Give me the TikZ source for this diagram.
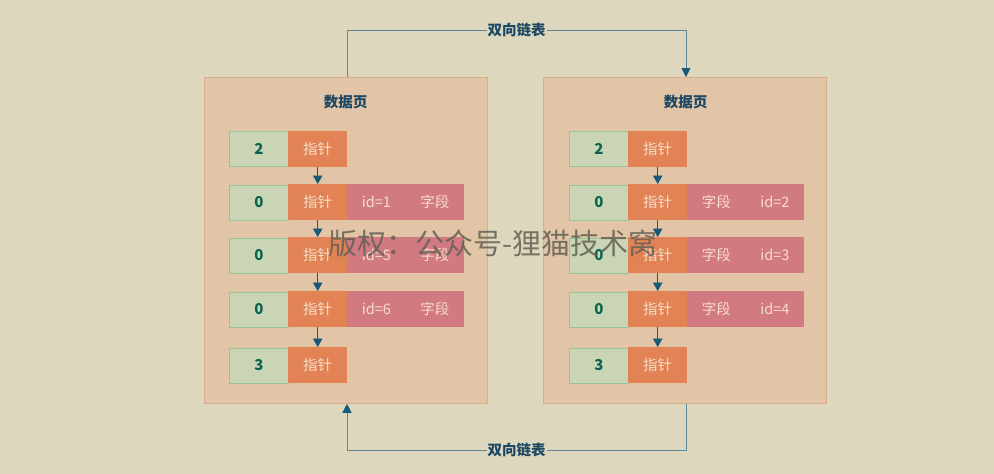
\documentclass[tikz,border=0pt]{standalone}
\usepackage{fontspec}
\setmainfont{Noto Sans CJK SC}
\usetikzlibrary{arrows.meta}
\definecolor{bg}{RGB}{221,215,189}
\definecolor{pagefill}{RGB}{225,197,166}
\definecolor{pageline}{RGB}{220,172,140}
\definecolor{grn}{RGB}{202,213,182}
\definecolor{grnb}{RGB}{150,196,150}
\definecolor{grnt}{RGB}{10,100,80}
\definecolor{org}{RGB}{226,131,86}
\definecolor{pnk}{RGB}{210,122,130}
\definecolor{celltxt}{RGB}{246,222,200}
\definecolor{lnk}{RGB}{95,135,150}
\definecolor{arrc}{RGB}{25,90,120}
\definecolor{ttl}{RGB}{28,72,100}
\begin{document}
\begin{tikzpicture}[x=1pt,y=-1pt,
  page/.style={draw=pageline, line width=0.8pt, fill=pagefill, minimum width=283pt, minimum height=326pt, anchor=north west, inner sep=0pt},
  ptitle/.style={text=ttl, font=\fontsize{14.5}{14.5}\selectfont\bfseries},
  cellg/.style={draw=grnb, line width=0.8pt, fill=grn, minimum width=59pt, minimum height=35pt, anchor=north west, inner sep=0pt, text=grnt, font=\fontsize{15}{15}\selectfont\bfseries},
  cello/.style={fill=org, minimum width=59pt, minimum height=36pt, anchor=north west, inner sep=0pt, text=celltxt, font=\fontsize{14.5}{15}\selectfont},
  cellp/.style={fill=pnk, minimum width=58.5pt, minimum height=36pt, anchor=north west, inner sep=0pt, text=celltxt, font=\fontsize{14.5}{15}\selectfont},
  arr/.style={draw=arrc, line width=0.9pt, -{Triangle[length=8.5pt,width=9.5pt]}},
  linkarr/.style={draw=lnk, line width=0.9pt, -{Triangle[length=9pt,width=9pt,fill=arrc,color=arrc]}},
  linklabel/.style={fill=bg, text=ttl, inner sep=1pt, font=\fontsize{14.5}{14.5}\selectfont\bfseries},
  wm/.style={text=black!55!bg, opacity=0.85, font=\fontsize{29}{29}\selectfont}
]
\useasboundingbox (0,0) rectangle (994,474);
\fill[bg] (0,0) rectangle (994,474);

% pages
\node[page] (LP) at (204,77) {};
\node[page] (RP) at (543,77) {};
\node[ptitle] (LT) at (345.5,102) {数据页};
\node[ptitle] (RT) at (685.5,102) {数据页};

% left page rows
\node[cellg] (Lg1) at (229,131) {2};
\node[cello] (Lo1) at (288,131) {指针};
\node[cellg] (Lg2) at (229,184.5) {0};
\node[cello] (Lo2) at (288,184) {指针};
\node[cellp] (Lpa2) at (347,184) {id=1};
\node[cellp] (Lpb2) at (405.5,184) {字段};
\node[cellg] (Lg3) at (229,237.5) {0};
\node[cello] (Lo3) at (288,237) {指针};
\node[cellp] (Lpa3) at (347,237) {id=5};
\node[cellp] (Lpb3) at (405.5,237) {字段};
\node[cellg] (Lg4) at (229,291.5) {0};
\node[cello] (Lo4) at (288,291) {指针};
\node[cellp] (Lpa4) at (347,291) {id=6};
\node[cellp] (Lpb4) at (405.5,291) {字段};
\node[cellg] (Lg5) at (229,347.5) {3};
\node[cello] (Lo5) at (288,347) {指针};

% right page rows
\node[cellg] (Rg1) at (569,131) {2};
\node[cello] (Ro1) at (628,131) {指针};
\node[cellg] (Rg2) at (569,184.5) {0};
\node[cello] (Ro2) at (628,184) {指针};
\node[cellp] (Rpa2) at (687,184) {字段};
\node[cellp] (Rpb2) at (745.5,184) {id=2};
\node[cellg] (Rg3) at (569,237.5) {0};
\node[cello] (Ro3) at (628,237) {指针};
\node[cellp] (Rpa3) at (687,237) {字段};
\node[cellp] (Rpb3) at (745.5,237) {id=3};
\node[cellg] (Rg4) at (569,291.5) {0};
\node[cello] (Ro4) at (628,291) {指针};
\node[cellp] (Rpa4) at (687,291) {字段};
\node[cellp] (Rpb4) at (745.5,291) {id=4};
\node[cellg] (Rg5) at (569,347.5) {3};
\node[cello] (Ro5) at (628,347) {指针};

% pointer arrows
\foreach \s in {L,R}{
  \draw[arr] (\s o1.south) -- (\s o2.north);
  \draw[arr] (\s o2.south) -- (\s o3.north);
  \draw[arr] (\s o3.south) -- (\s o4.north);
  \draw[arr] (\s o4.south) -- (\s o5.north);
}

% doubly linked list connectors
\coordinate (t1) at (347,30);
\coordinate (t2) at (686,30);
\coordinate (b1) at (347,450);
\coordinate (b2) at (686,450);
\draw[linkarr] (LP.north -| t1) -- (t1) -- node[linklabel] (TL) {双向链表} (t2) -- (RP.north -| t2);
\draw[linkarr] (RP.south -| b2) -- (b2) -- node[linklabel] (BL) {双向链表} (b1) -- (LP.south -| b1);

% watermark
\node[wm] (WM) at (493,243) {版权：公众号-狸猫技术窝};
\end{tikzpicture}
\end{document}
